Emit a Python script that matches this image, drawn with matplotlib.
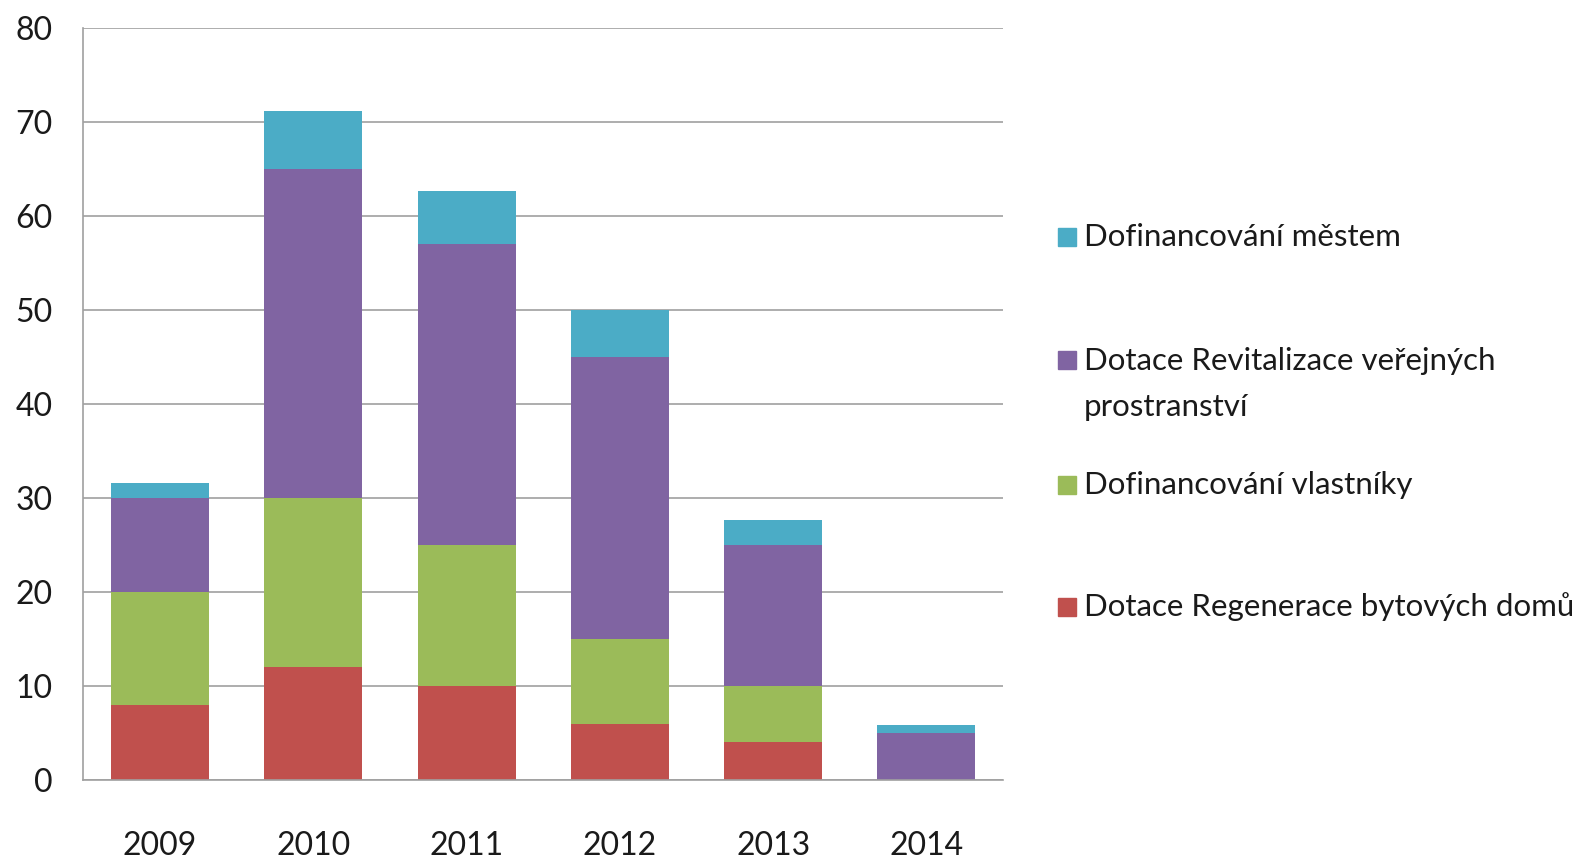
import matplotlib
matplotlib.use('Agg')
import matplotlib.pyplot as plt
from matplotlib.patches import Rectangle

plt.rcParams['font.family'] = ['Lato', 'DejaVu Sans']

years = ['2009', '2010', '2011', '2012', '2013', '2014']

# segments from bottom to top
regenerace = [8, 12, 10, 6, 4, 0]
vlastniky = [12, 18, 15, 9, 6, 0]
revitalizace = [10, 35, 32, 30, 15, 5]
mestem = [1.6, 6.1, 5.6, 5.0, 2.65, 0.85]

series = [
    ('Dotace Regenerace bytových domů', regenerace, '#C0504D'),
    ('Dofinancování vlastníky', vlastniky, '#9BBB59'),
    ('Dotace Revitalizace veřejných\nprostranství', revitalizace, '#8064A2'),
    ('Dofinancování městem', mestem, '#4BACC6'),
]

fig = plt.figure(figsize=(15.93, 8.61), dpi=100)
ax = fig.add_axes([0.0524, 0.0941, 0.5772, 0.8737])

x = range(len(years))
bottom = [0] * len(years)
for label, vals, color in series:
    ax.bar(x, vals, width=0.64, bottom=bottom, color=color, zorder=2)
    bottom = [b + v for b, v in zip(bottom, vals)]

ax.set_xlim(-0.5, 5.5)
ax.set_ylim(0, 80)
ax.set_yticks(range(0, 81, 10))
ax.set_xticks(list(x))
ax.set_xticklabels(years)
ax.yaxis.grid(True, color='#a0a0a0', linewidth=1.2, zorder=0)
ax.set_axisbelow(True)
ax.tick_params(axis='both', length=0, labelsize=23, labelcolor='#1a1a1a')
ax.tick_params(axis='y', pad=22)
ax.tick_params(axis='x', pad=37)
for side in ['top', 'right']:
    ax.spines[side].set_visible(False)
for side in ['left', 'bottom']:
    ax.spines[side].set_color('#a0a0a0')
    ax.spines[side].set_linewidth(1.2)

# legend, drawn by hand to follow the original spacing
W, H = 1593.0, 861.0
legend_y = [237, 384, 485, 607]  # pixel centres, top series first
for (label, vals, color), yc in zip(series[::-1], legend_y):
    nlines = label.count('\n') + 1
    sq_y = yc - (nlines - 1) * 24
    fig.patches.append(Rectangle((1058 / W, 1 - (sq_y + 9) / H), 18 / W, 18 / H,
                                 transform=fig.transFigure, color=color))
    fig.text(1084 / W, 1 - yc / H, label, fontsize=22.5, color='#1a1a1a',
             va='center', ha='left', linespacing=1.8)

plt.savefig('out.png', dpi=100)
